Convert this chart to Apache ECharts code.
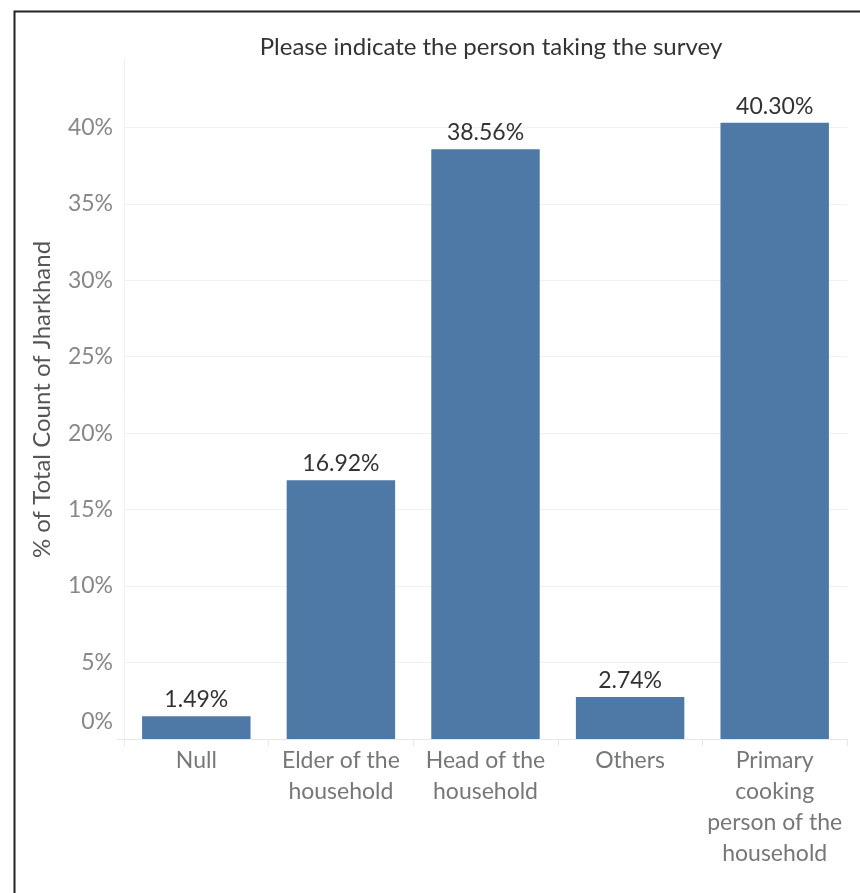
<!DOCTYPE html>
<html>
<head>
<meta charset="utf-8">
<script src="https://cdn.jsdelivr.net/npm/echarts@6/dist/echarts.min.js"></script>
<style>html,body{margin:0;padding:0;background:#fff;}#c{width:860px;height:893px;}</style>
</head>
<body>
<div id="c"></div>
<script>
const titleText = 'Please indicate the person taking the survey';
const yAxisName = '% of Total Count of Jharkhand';
const categories = ['Null', 'Elder of the\nhousehold', 'Head of the\nhousehold', 'Others', 'Primary\ncooking\nperson of the\nhousehold'];
const values = [1.49, 16.92, 38.56, 2.74, 40.30];
const yMin = 0, yMax = 44.4, yStep = 5;

const FONT = 'Lato, "Open Sans", sans-serif';
const chart = echarts.init(document.getElementById('c'), null, {renderer: 'canvas'});
const nTicks = Math.floor(yMax / yStep) + 2;
const splitColors = [];
for (let i = 0; i < nTicks; i++) splitColors.push(i === nTicks - 1 ? 'rgba(0,0,0,0)' : '#f0f0f0');

chart.setOption({
  animation: false,
  backgroundColor: '#fff',
  title: {
    text: titleText, left: 486, top: 30, textAlign: 'center',
    textStyle: {fontFamily: FONT, fontSize: 24, fontWeight: 'normal', color: '#333'}
  },
  graphic: [{
    type: 'rect', left: 12, top: 9, shape: {x: 0, y: 0, width: 870, height: 900},
    style: {fill: 'none', stroke: '#222', lineWidth: 2}, silent: true, z: 100
  }, {
    type: 'line', shape: {x1: 117, y1: 739.5, x2: 124, y2: 739.5},
    style: {stroke: '#e8e8e8', lineWidth: 1}, silent: true
  }],
  grid: {left: 124, right: 13, top: 60, bottom: 154, containLabel: false},
  xAxis: {
    type: 'category', data: categories,
    axisLine: {show: true, lineStyle: {color: '#e8e8e8', width: 1}},
    axisTick: {show: true, alignWithLabel: false, length: 7, lineStyle: {color: '#e8e8e8'}},
    axisLabel: {fontFamily: FONT, fontSize: 23, color: '#777', lineHeight: 31, margin: 6, interval: 0}
  },
  yAxis: {
    type: 'value', min: yMin, max: yMax, interval: yStep,
    name: yAxisName, nameLocation: 'middle', nameGap: 70, nameRotate: 90,
    nameTextStyle: {fontFamily: FONT, fontSize: 24, color: '#555'},
    axisLine: {show: true, lineStyle: {color: '#f0f0f0'}},
    axisTick: {show: false},
    splitLine: {show: true, lineStyle: {color: splitColors, width: 1}},
    axisLabel: {
      fontFamily: FONT, fontSize: 23, color: '#888', margin: 11,
      showMaxLabel: false,
      formatter: function (v) {
        if (v === 0) return '{z|0%}';
        if (Math.abs(v % yStep) > 1e-9) return '';
        return v + '%';
      },
      rich: {z: {fontFamily: FONT, fontSize: 23, color: '#888', padding: [0, 0, 34, 0]}}
    }
  },
  series: [{
    type: 'bar', data: values, barCategoryGap: '25%',
    itemStyle: {color: '#4e79a7'},
    label: {
      show: true, position: 'top', distance: 5,
      fontFamily: FONT, fontSize: 23, color: '#333',
      formatter: function (p) { return p.value.toFixed(2) + '%'; }
    }
  }]
});
</script>
</body>
</html>
